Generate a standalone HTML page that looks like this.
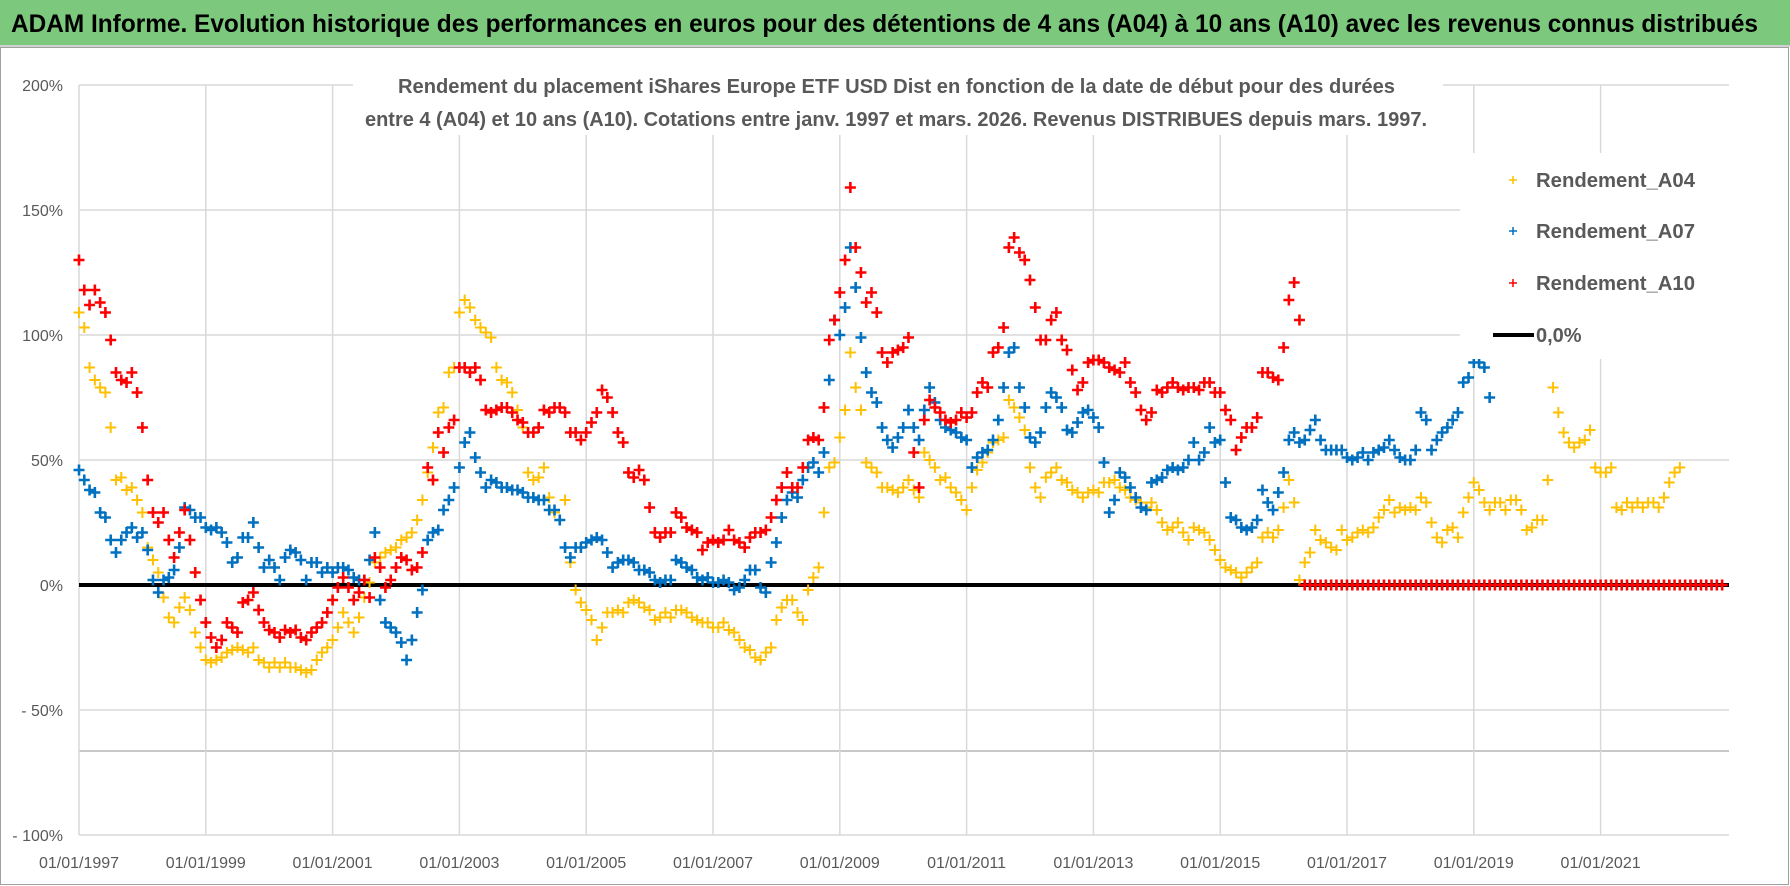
<!DOCTYPE html>
<html><head><meta charset="utf-8"><style>
html,body{margin:0;padding:0;background:#fff;}
svg{display:block;font-family:"Liberation Sans",sans-serif;}
</style></head><body>
<svg id="chart" width="1790" height="886" viewBox="0 0 1790 886" xmlns="http://www.w3.org/2000/svg">
<rect x="0" y="0" width="1790" height="886" fill="#fff"/>
<g>
<rect x="0" y="0" width="1790" height="45" fill="#7cc87d"/>
<rect x="0" y="45" width="1790" height="2" fill="#d0d0d0"/>
<text x="11" y="32" font-size="25" font-weight="bold" fill="#000" textLength="1747" lengthAdjust="spacingAndGlyphs">ADAM Informe. Evolution historique des performances en euros pour des détentions de 4 ans (A04) à 10 ans (A10) avec les revenus connus distribués</text>
</g>
<rect x="0.5" y="47.5" width="1788" height="837" fill="none" stroke="#a0a0a0" stroke-width="1"/>
<g id="grid"></g>
<rect x="353" y="66" width="1090" height="69" fill="#fff"/>
<g id="plot"></g>
<g id="axes"></g>
<g font-weight="bold" fill="#595959" font-size="20">
<text x="398" y="93" textLength="997" lengthAdjust="spacingAndGlyphs">Rendement du placement iShares Europe ETF USD Dist en fonction de la date de début pour des durées</text>
<text x="365" y="126" textLength="1062" lengthAdjust="spacingAndGlyphs">entre 4 (A04) et 10 ans (A10). Cotations entre janv. 1997 et mars. 2026. Revenus DISTRIBUES depuis mars. 1997.</text>
</g>
<g>
<rect x="1460" y="153" width="270" height="206" fill="#fff"/>
<g>
<path d="M1509 180h8M1513 176v8" stroke="#FFC000" stroke-width="1.5"/>
<text x="1536" y="187" font-size="20" font-weight="bold" fill="#595959" textLength="159" lengthAdjust="spacingAndGlyphs">Rendement_A04</text>
</g>
<g>
<path d="M1509 231h8M1513 227v8" stroke="#0070C0" stroke-width="1.5"/>
<text x="1536" y="238" font-size="20" font-weight="bold" fill="#595959" textLength="159" lengthAdjust="spacingAndGlyphs">Rendement_A07</text>
</g>
<g>
<path d="M1509 283h8M1513 279v8" stroke="#FF0000" stroke-width="1.5"/>
<text x="1536" y="290" font-size="20" font-weight="bold" fill="#595959" textLength="159" lengthAdjust="spacingAndGlyphs">Rendement_A10</text>
</g>
<g>
<line x1="1493" y1="335" x2="1534" y2="335" stroke="#000" stroke-width="4"/>
<text x="1536" y="342" font-size="20" font-weight="bold" fill="#595959">0,0%</text>
</g>
</g>
</svg>
<script>
const yTicks = [200, 150, 100, 50, 0, -50, -100];
const yTickLabels = ["200%", "150%", "100%", "50%", "0%", "- 50%", "- 100%"];
const xTickMonths = [0, 24, 48, 72, 96, 120, 144, 168, 192, 216, 240, 264, 288];
const xTickLabels = ["01/01/1997","01/01/1999","01/01/2001","01/01/2003","01/01/2005","01/01/2007","01/01/2009","01/01/2011","01/01/2013","01/01/2015","01/01/2017","01/01/2019","01/01/2021"];
const extraLineValue = -66.4;
const zeroLineValue = 0;
const rendementA04 = [
109,103,87,82,79,77,63,42,43,38,39,34,
29,15,10,5,-5,-13,-15,-9,-5,-10,-19,-25,
-30,-31,-30,-29,-27,-26,-25,-26,-27,-25,-30,-31,
-33,-31,-33,-31,-33,-33,-34,-35,-34,-30,-27,-25,
-22,-17,-11,-15,-19,-13,-5,1,9,11,13,14,
15,18,19,21,26,34,45,55,69,71,85,87,
109,114,111,106,103,101,99,87,82,81,77,70,
63,45,42,43,47,35,29,26,34,9,-2,-7,
-10,-14,-22,-17,-11,-11,-10,-11,-7,-6,-7,-9,
-10,-14,-13,-11,-13,-10,-10,-11,-13,-14,-15,-15,
-17,-17,-15,-18,-19,-22,-25,-26,-29,-30,-27,-25,
-14,-9,-6,-6,-11,-14,-2,3,7,29,47,49,
59,70,93,79,70,49,47,45,39,39,38,37,
39,42,38,35,53,50,47,42,43,39,37,34,
30,39,46,49,53,57,58,59,74,71,67,62,
47,39,35,43,45,47,42,41,38,37,35,37,
38,37,41,41,42,39,38,35,34,33,31,33,
30,25,22,23,25,21,18,23,22,21,18,14,
10,7,6,5,3,5,7,9,19,21,19,22,
31,42,33,2,9,13,22,18,17,15,14,22,
18,19,21,22,21,23,27,30,34,29,31,30,
31,30,35,33,25,19,17,22,23,19,29,35,
41,38,33,30,33,33,30,34,34,30,22,23,
26,26,42,79,69,61,57,55,57,58,62,47,
45,45,47,31,30,33,31,33,31,33,33,31,
35,41,45,47
];
const rendementA07 = [
46,42,38,37,29,27,18,13,18,21,23,19,
21,14,2,-3,2,3,6,15,31,30,27,27,
23,22,23,21,17,9,11,19,19,25,15,7,
10,7,2,11,14,13,10,2,9,9,5,7,
5,7,7,6,3,2,2,10,21,-6,-15,-17,
-19,-23,-30,-22,-11,-2,18,21,22,30,34,39,
47,57,61,51,45,39,42,41,39,39,38,38,
37,35,35,34,34,30,30,26,15,11,15,15,
17,18,19,18,13,7,9,10,10,9,6,6,
5,2,1,2,2,10,9,7,6,3,2,3,
1,1,2,1,-2,-1,2,6,6,-1,-3,9,
17,27,34,37,35,42,47,49,45,53,82,106,
100,111,135,119,99,85,77,73,63,58,55,59,
63,70,63,58,70,79,73,66,63,62,61,59,
58,47,51,53,54,58,66,79,93,95,79,71,
59,57,61,71,77,75,71,62,61,65,69,70,
67,63,49,29,34,45,43,39,35,31,30,41,
42,43,46,47,46,47,50,57,50,53,63,57,
58,41,27,26,23,22,23,26,38,33,30,37,
45,58,61,57,58,62,66,58,54,54,54,54,
51,50,51,53,50,53,54,55,58,54,51,50,
50,54,69,66,54,58,61,63,66,69,81,83,
89,89,87,75
];
const rendementA10 = [
130,118,112,118,113,109,98,85,82,81,85,77,
63,42,29,25,29,18,11,21,30,18,5,-6,
-15,-21,-25,-22,-15,-17,-19,-7,-6,-3,-10,-15,
-18,-19,-21,-18,-19,-18,-21,-22,-19,-17,-15,-11,
-6,-1,3,-1,-6,-3,2,-5,11,7,-1,2,
7,11,10,6,7,13,47,42,61,53,63,66,
87,87,85,87,82,70,69,70,71,71,69,66,
65,61,61,63,70,69,71,71,69,61,61,58,
61,65,69,78,75,69,61,57,45,43,46,42,
31,21,19,21,21,29,27,23,22,21,14,17,
18,17,18,22,18,17,15,19,21,21,22,27,
34,39,45,39,39,47,58,59,58,71,98,106,
117,130,159,135,125,113,117,109,93,89,93,94,
95,99,53,39,66,74,71,69,66,65,66,69,
67,69,77,81,79,93,95,103,135,139,133,130,
122,111,98,98,106,109,98,94,86,78,81,89,
90,90,89,87,86,85,89,81,77,70,66,69,
78,77,79,81,79,78,79,79,78,81,81,77,
77,70,66,54,59,63,63,67,85,85,83,82,
95,114,121,106,0,0,0,0,0,0,0,0,
0,0,0,0,0,0,0,0,0,0,0,0,
0,0,0,0,0,0,0,0,0,0,0,0,
0,0,0,0,0,0,0,0,0,0,0,0,
0,0,0,0,0,0,0,0,0,0,0,0,
0,0,0,0,0,0,0,0,0,0,0,0,
0,0,0,0,0,0,0,0,0,0,0,0
];

const NS = "http://www.w3.org/2000/svg";
const X0 = 79, X1 = 1729, Y0 = 585, PX_PER_PCT = 2.5, PX_PER_MONTH = 126.8 / 24;
function xScale(m) { return X0 + m * PX_PER_MONTH; }
function yScale(v) { return Y0 - v * PX_PER_PCT; }
function mk(tag, attrs, parent) {
  const el = document.createElementNS(NS, tag);
  for (const k in attrs) el.setAttribute(k, attrs[k]);
  parent.appendChild(el);
  return el;
}
const grid = document.getElementById('grid');
const axes = document.getElementById('axes');
const plot = document.getElementById('plot');

yTicks.forEach((v, i) => {
  if (v !== 0) {
    const l = mk('line', {x1: X0, x2: X1, y1: yScale(v), y2: yScale(v), stroke: '#d9d9d9', 'stroke-width': 1.5}, grid);
    
    
  }
  const t = mk('text', {x: 63, y: yScale(v) + 6, 'text-anchor': 'end', 'font-size': 16, fill: '#595959'}, axes);
  t.textContent = yTickLabels[i];
  
  
});
const extra = mk('line', {x1: X0, x2: X1, y1: yScale(extraLineValue), y2: yScale(extraLineValue), stroke: '#c8c8c8', 'stroke-width': 2}, grid);



xTickMonths.forEach((m, i) => {
  const x = xScale(m);
  const l = mk('line', {x1: x, x2: x, y1: yScale(200), y2: yScale(-100), stroke: '#d9d9d9', 'stroke-width': 1.5}, grid);
  
  
  const t = mk('text', {x: x, y: 868, 'text-anchor': 'middle', 'font-size': 16, fill: '#595959'}, axes);
  t.textContent = xTickLabels[i];
  
  
});

const zl = mk('line', {x1: X0, x2: X1, y1: yScale(zeroLineValue), y2: yScale(zeroLineValue), stroke: '#000', 'stroke-width': 4}, plot);



function drawSeries(values, color, name, sw, size) {
  const g = mk('g', {stroke: color, 'stroke-width': sw, fill: 'none'}, plot);
  
  
  let d = '';
  values.forEach((v, m) => {
    if (v === null) return;
    const x = xScale(m), y = yScale(v);
    d += 'M' + (x - size) + ' ' + y + 'h' + (2 * size) + 'M' + x + ' ' + (y - size) + 'v' + (2 * size);
  });
  const p = mk('path', {d: d}, g);
  
  
}
drawSeries(rendementA04, '#FFC000', 'series-a04', 2, 5.5);
drawSeries(rendementA07, '#0070C0', 'series-a07', 2.6, 5.5);
drawSeries(rendementA10, '#FF0000', 'series-a10', 2.6, 5.5);
</script>
</body></html>
